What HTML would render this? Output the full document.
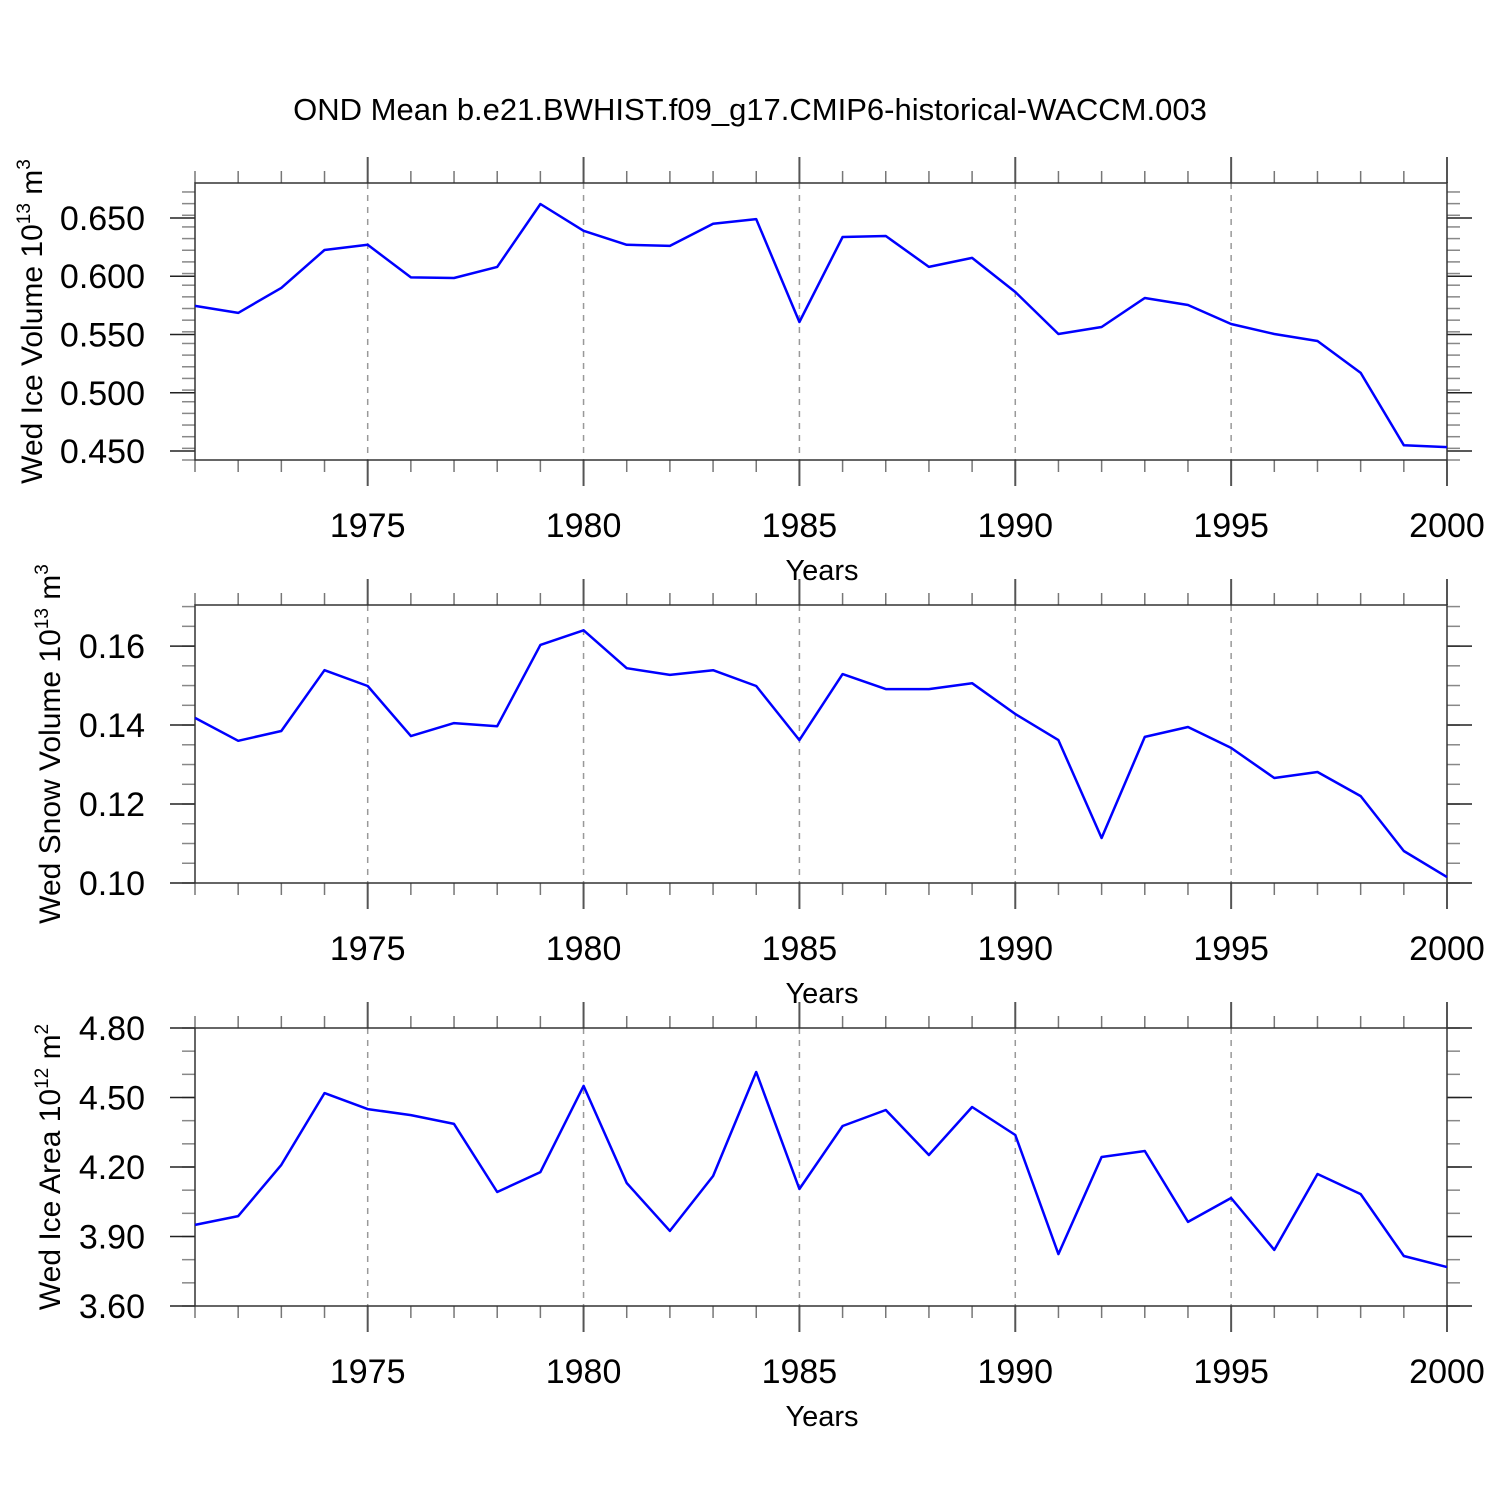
<!DOCTYPE html>
<html><head><meta charset="utf-8"><style>
html,body{margin:0;padding:0;background:#fff}
svg{display:block;font-family:"Liberation Sans",Arial,sans-serif}
</style></head><body>
<svg id="chart" width="1500" height="1500" viewBox="0 0 1500 1500" xmlns="http://www.w3.org/2000/svg">
<rect width="1500" height="1500" fill="#fff"/>
<text x="750" y="120" font-size="31" text-anchor="middle">OND Mean b.e21.BWHIST.f09_g17.CMIP6-historical-WACCM.003</text>
</svg>
<script>
const years = [1971,1972,1973,1974,1975,1976,1977,1978,1979,1980,1981,1982,1983,1984,1985,1986,1987,1988,1989,1990,1991,1992,1993,1994,1995,1996,1997,1998,1999,2000];
const iceVolume = [0.5745,0.5685,0.590,0.6225,0.627,0.599,0.5985,0.608,0.662,0.639,0.627,0.626,0.645,0.649,0.5607,0.6337,0.6345,0.608,0.6157,0.5865,0.5504,0.5564,0.5813,0.5753,0.559,0.5504,0.5444,0.517,0.455,0.4534];
const snowVolume = [0.1418,0.136,0.1385,0.1539,0.1499,0.1372,0.1405,0.1397,0.1603,0.164,0.1544,0.1527,0.1539,0.1499,0.1362,0.1529,0.1491,0.1491,0.1506,0.1428,0.1362,0.1114,0.137,0.1395,0.1342,0.1266,0.1281,0.122,0.1081,0.1015];
const iceArea = [3.950,3.988,4.209,4.519,4.450,4.424,4.386,4.092,4.178,4.550,4.131,3.924,4.161,4.610,4.105,4.377,4.446,4.252,4.459,4.338,3.824,4.243,4.269,3.963,4.066,3.842,4.170,4.083,3.816,3.768];
const xTickLabels = [1975,1980,1985,1990,1995,2000];
const iceVolTicks = ["0.450","0.500","0.550","0.600","0.650"];
const snowTicks = ["0.10","0.12","0.14","0.16"];
const areaTicks = ["3.60","3.90","4.20","4.50","4.80"];

const NS="http://www.w3.org/2000/svg";
const svg=document.getElementById('chart');
function mk(tag,attrs,parent){const e=document.createElementNS(NS,tag);for(const k in attrs)e.setAttribute(k,attrs[k]);(parent||svg).appendChild(e);return e;}
const X0=195,X1=1447;
function xs(y){return X0+(y-1971)/(2000-1971)*(X1-X0);}

function panel(id,top,bot,ymin,ymax,minorStep,ticks,data,titleParts,titleX){
  const g=mk('g',{});
  
  
  const ys=v=>bot-(v-ymin)/(ymax-ymin)*(bot-top);
  xTickLabels.forEach(y=>{
    if(y===2000)return;
    const l=mk('line',{x1:xs(y),x2:xs(y),y1:top,y2:bot,stroke:'#999','stroke-width':1.5,'stroke-dasharray':'6,6'},g);
    
    
  });
  years.forEach(y=>{
    const major=y%5===0, L=major?26:12;
    const c=major?'#555':'#777', w=major?2:1.5;
    mk('line',{x1:xs(y),x2:xs(y),y1:top-L,y2:top,stroke:c,'stroke-width':w},g);
    mk('line',{x1:xs(y),x2:xs(y),y1:bot,y2:bot+L,stroke:c,'stroke-width':w},g);
  });
  const n=Math.round((ymax-ymin)/minorStep);
  for(let i=0;i<=n;i++){
    const v=ymin+i*minorStep, yy=ys(v);
    if(yy<top-0.5||yy>bot+0.5)continue;
    mk('line',{x1:X0-13,x2:X0,y1:yy,y2:yy,stroke:'#888','stroke-width':1.5},g);
    mk('line',{x1:X1,x2:X1+13,y1:yy,y2:yy,stroke:'#888','stroke-width':1.5},g);
  }
  ticks.forEach(t=>{
    const yy=ys(parseFloat(t));
    mk('line',{x1:X0-25,x2:X0,y1:yy,y2:yy,stroke:'#222','stroke-width':1.5},g);
    mk('line',{x1:X1,x2:X1+25,y1:yy,y2:yy,stroke:'#222','stroke-width':1.5},g);
    const tx=mk('text',{x:145,y:yy+12,'font-size':34,'text-anchor':'end'},g);
    tx.textContent=t;
    
    
  });
  const f=mk('rect',{x:X0,y:top,width:X1-X0,height:bot-top,fill:'none',stroke:'#333','stroke-width':1.5},g);
  
  
  xTickLabels.forEach(y=>{
    const tx=mk('text',{x:xs(y),y:bot+77,'font-size':34,'text-anchor':'middle'},g);
    tx.textContent=y;
    
    
  });
  const xt=mk('text',{x:822,y:bot+120,'font-size':29,'text-anchor':'middle'},g);
  xt.textContent='Years';
  
  
  const cy=(top+bot)/2;
  const yt=mk('text',{x:0,y:0,'font-size':30,'text-anchor':'middle',transform:`translate(${titleX},${cy}) rotate(-90)`},g);
  
  
  const a=mk('tspan',{},yt);a.textContent=titleParts[0];
  const b=mk('tspan',{'font-size':19,dy:-12},yt);b.textContent=titleParts[1];
  const c=mk('tspan',{dy:12},yt);c.textContent=' m';
  const d=mk('tspan',{'font-size':19,dy:-12},yt);d.textContent=titleParts[2];
  const pts=data.map((v,i)=>xs(years[i]).toFixed(1)+','+ys(v).toFixed(1)).join(' ');
  const pl=mk('polyline',{points:pts,fill:'none',stroke:'#0000ff','stroke-width':2.5,'stroke-linejoin':'round'},g);
  
  
}
panel('ice-volume',183,460,0.4423,0.680,0.01,iceVolTicks,iceVolume,['Wed Ice Volume 10','13','3'],42);
panel('snow-volume',605,883,0.10,0.1704,0.005,snowTicks,snowVolume,['Wed Snow Volume 10','13','3'],60);
panel('ice-area',1028,1306,3.60,4.80,0.1,areaTicks,iceArea,['Wed Ice Area 10','12','2'],60);
</script>
</body></html>
